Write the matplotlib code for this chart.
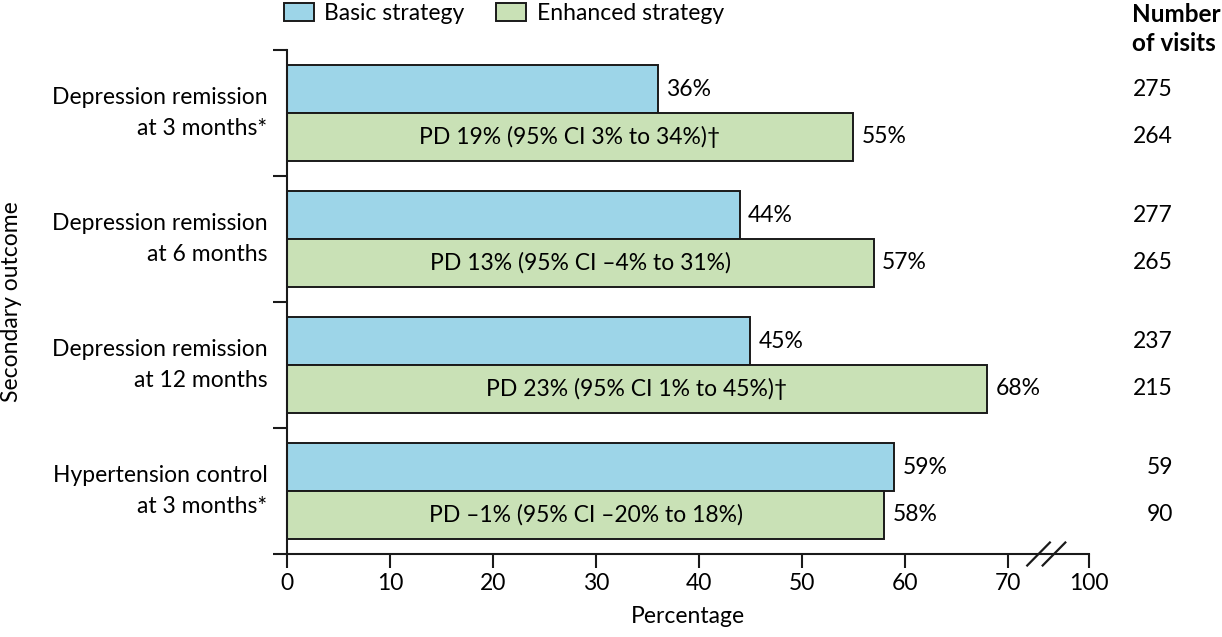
import matplotlib
matplotlib.use("Agg")
import matplotlib.pyplot as plt
from matplotlib.patches import Patch
import matplotlib.transforms as mtransforms

plt.rcParams['font.family'] = ['Lato', 'DejaVu Sans']

categories = ["Depression remission\nat 3 months*", "Depression remission\nat 6 months",
              "Depression remission\nat 12 months", "Hypertension control\nat 3 months*"]
basic = [36, 44, 45, 59]
enhanced = [55, 57, 68, 58]
pd_labels = ["PD 19% (95% CI 3% to 34%)†", "PD 13% (95% CI \u20134% to 31%)",
             "PD 23% (95% CI 1% to 45%)†", "PD \u20131% (95% CI \u201320% to 18%)"]
visits_basic = [275, 277, 237, 59]
visits_enh = [264, 265, 215, 90]
tick_vals = [0, 10, 20, 30, 40, 50, 60, 70, 77.9]
tick_labels = ["0", "10", "20", "30", "40", "50", "60", "70", "100"]

BLUE = "#9dd5e8"
GREEN = "#c9e1b6"
FS = 16.5

W, H = 1222, 637
fig = plt.figure(figsize=(W / 100, H / 100), dpi=100)
ax = fig.add_axes([287 / W, 1 - 554 / H, (1089 - 287) / W, (554 - 50) / H])

bh = 0.377
off = 0.123
tr = mtransforms.blended_transform_factory(fig.transFigure, ax.transData)
for k in range(len(categories)):
    yb = k + off + bh / 2
    yg = k + off + bh + bh / 2
    ax.barh(yb, basic[k], height=bh, color=BLUE, edgecolor="#1a1a1a", linewidth=1.4)
    ax.barh(yg, enhanced[k], height=bh, color=GREEN, edgecolor="#1a1a1a", linewidth=1.4)
    ax.text(basic[k] + 0.8, yb, f"{basic[k]}%", va="center", ha="left", fontsize=FS)
    ax.text(enhanced[k] + 0.8, yg, f"{enhanced[k]}%", va="center", ha="left", fontsize=FS)
    ax.text(enhanced[k] / 2, yg, pd_labels[k], va="center", ha="center", fontsize=FS)
    ax.text(-1.9, k + 0.5, categories[k], va="center", ha="right", fontsize=FS,
            linespacing=1.6)
    fig.text(1173 / W, yb, str(visits_basic[k]), va="center", ha="right", fontsize=FS, transform=tr)
    fig.text(1173 / W, yg, str(visits_enh[k]), va="center", ha="right", fontsize=FS, transform=tr)

ax.set_ylim(4, 0)
ax.set_xlim(0, 77.9)
ax.set_yticks([0, 1, 2, 3, 4])
ax.set_yticklabels([])
ax.set_xticks(tick_vals)
ax.set_xticklabels(tick_labels, fontsize=FS)
ax.tick_params(axis="y", length=10, width=1.5, color="#1a1a1a")
ax.tick_params(axis="x", length=10, width=1.5, color="#1a1a1a", pad=4)
for s in ["top", "right"]:
    ax.spines[s].set_visible(False)
for s in ["left", "bottom"]:
    ax.spines[s].set_linewidth(1.5)
    ax.spines[s].set_color("#1a1a1a")

ax.set_xlabel("Percentage", fontsize=FS, labelpad=8)
fig.text(12 / W, 0.5 * (1 - 50 / H + 1 - 554 / H), "Secondary outcome", rotation=90,
         va="center", ha="center", fontsize=FS)

# axis break marks
bt = mtransforms.blended_transform_factory(ax.transData, ax.transAxes)
dy = 11.5 / 504
for x0, x1 in [(71.9, 74.1), (73.4, 75.6)]:
    ax.plot([x0, x1], [-dy, dy], color="#1a1a1a", lw=1.6, transform=bt, clip_on=False, zorder=6)

# header
fig.text(1132 / W, 1 - 3 / H, "Number\nof visits", ha="left", va="top", fontsize=17.5,
         fontweight="bold", linespacing=1.3)

handles = [Patch(facecolor=BLUE, edgecolor="#1a1a1a", linewidth=1.4, label="Basic strategy"),
           Patch(facecolor=GREEN, edgecolor="#1a1a1a", linewidth=1.4, label="Enhanced strategy")]
fig.legend(handles=handles, loc="upper left", bbox_to_anchor=(284 / W, 1 - 3 / H), ncol=2,
           frameon=False, fontsize=FS, handlelength=1.3, handleheight=0.85,
           handletextpad=0.45, columnspacing=1.4, borderpad=0, borderaxespad=0)

fig.savefig("out.png", dpi=100)
